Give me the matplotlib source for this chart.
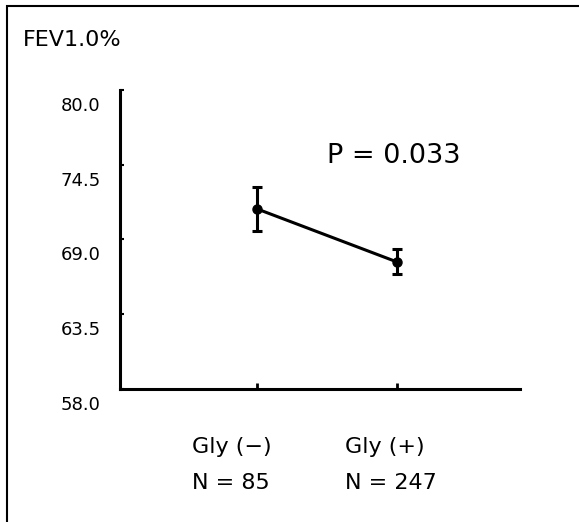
import numpy as np
import matplotlib
matplotlib.use('Agg')
import matplotlib.pyplot as plt
from matplotlib.patches import Rectangle
from matplotlib.transforms import ScaledTranslation

# data
groups = ['Gly (\u2212)', 'Gly (+)']
counts = ['N = 85', 'N = 247']
fev_mean = [71.25, 67.35]
fev_err = [1.6, 0.92]
yticks = [58.0, 63.5, 69.0, 74.5, 80.0]
p_text = 'P = 0.033'

if __name__ == '__main__':
	fig = plt.figure(figsize=(5.79, 5.22), dpi=100)
	ax = fig.add_axes([120/579, 1 - 389/522, 400/579, 299/522])

	x = np.arange(1, len(groups) + 1)
	ax.errorbar(x, fev_mean, yerr=fev_err, color='black', lw=2.2, elinewidth=2.2,
				capsize=3.6, capthick=2.2, marker='o', markersize=6.5)

	ax.set_xlim(0.02, 2.88)
	ax.set_ylim(58.0, 80.0)
	for s in ['top', 'right']:
		ax.spines[s].set_visible(False)
	for s in ['left', 'bottom']:
		ax.spines[s].set_linewidth(2.2)

	ax.set_xticks(x)
	ax.set_xticklabels([])
	ax.tick_params(axis='x', direction='in', length=4, width=2)
	ax.set_yticks(yticks)
	ax.set_yticklabels(['%.1f' % v for v in yticks], fontsize=13)
	ax.tick_params(axis='y', direction='in', length=3, width=1.5, pad=14)
	shift = ScaledTranslation(0, -0.14, fig.dpi_scale_trans)
	for lab in ax.get_yticklabels():
		lab.set_transform(lab.get_transform() + shift)

	# group names and counts under the axis
	for left, g, n in zip([0.18, 0.5625], groups, counts):
		ax.text(left, -0.194, g, transform=ax.transAxes, ha='left', va='center', fontsize=16)
		ax.text(left, -0.314, n, transform=ax.transAxes, ha='left', va='center', fontsize=16)

	ax.text(0.5175, 0.779, p_text, transform=ax.transAxes, ha='left', va='center', fontsize=19.5)
	fig.text(23/579, 1 - 40/522, 'FEV1.0%', ha='left', va='center', fontsize=16)

	# frame round the figure (top and left edges visible)
	fig.patches.append(Rectangle((7/579, -0.1), 1.2, 1.1 - 6/522, transform=fig.transFigure,
								 fill=False, lw=1.5, edgecolor='black', clip_on=False))

	fig.savefig('out.png', dpi=100)
	plt.close()
